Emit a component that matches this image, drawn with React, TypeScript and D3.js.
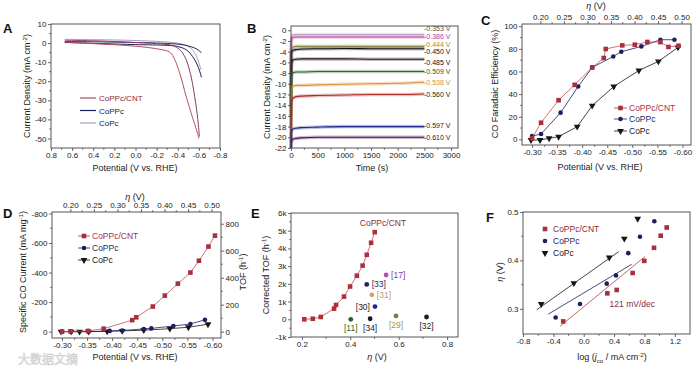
import { useEffect, useRef } from "react";
import * as d3 from "d3";

const FONT = "'Liberation Sans', Arial, sans-serif";
const RED = "#a8303e";
const NAVY = "#1c1f5e";
const BLK = "#151515";

// A: polarization curves (potential V, current density mA cm-2)
const lsvCntE1 = [0.67, 0.5, 0.3, 0.1, -0.1, -0.2, -0.28, -0.33, -0.37, -0.42, -0.48, -0.54, -0.58, -0.6];
const lsvCntJ1 = [0.5, 0, -0.6, -1.2, -2.2, -3.0, -3.8, -5.0, -8.5, -16, -28, -39, -46, -50];
const lsvCntE2 = [0.67, 0.4, 0.2, 0.0, -0.2, -0.35, -0.42, -0.47, -0.52, -0.56, -0.59, -0.605];
const lsvCntJ2 = [1.5, 1.2, 0.8, 0.3, -0.3, -1.3, -3.5, -7.5, -16, -28, -40, -49];
const lsvPpcE1 = [0.67, 0.3, 0.0, -0.3, -0.4, -0.48, -0.54, -0.59, -0.625];
const lsvPpcJ1 = [0.3, -0.3, -0.8, -1.2, -1.8, -3.5, -7, -12, -18];
const lsvPpcE2 = [0.67, 0.3, 0.0, -0.3, -0.42, -0.5, -0.56, -0.6, -0.625];
const lsvPpcJ2 = [0.8, 0.6, 0.3, -0.2, -0.7, -1.5, -2.6, -3.8, -5.2];
const lsvPcE = [0.67, 0.4, 0.1, -0.2, -0.35, -0.45, -0.52, -0.57, -0.62];
const lsvPcJ = [2.0, 1.8, 1.5, 0.9, 0.3, -0.6, -2.5, -6, -14];
const legendNames = ["CoPPc/CNT", "CoPPc", "CoPc"];

// B: chronoamperometry
const ctTimes = [0, 8, 20, 50, 100, 200, 500, 1000, 1500, 2000, 2500];
const ctPotentials = ["-0.353 V", "-0.386 V", "-0.444 V", "-0.450 V", "-0.485 V", "-0.509 V", "-0.538 V", "-0.560 V", "-0.597 V", "-0.610 V"];
const ctCurrents = [
  [-6, -1.6, -1.0, -0.85, -0.8, -0.8, -0.8, -0.8, -0.8, -0.8, -0.8],
  [-8, -2.2, -1.5, -1.3, -1.25, -1.25, -1.25, -1.25, -1.25, -1.25, -1.25],
  [-12, -4.0, -3.3, -3.1, -3.0, -3.0, -3.0, -3.0, -3.0, -3.0, -3.0],
  [-14, -4.6, -3.9, -3.7, -3.6, -3.5, -3.45, -3.4, -3.45, -3.45, -3.45],
  [-16, -6.6, -5.8, -5.5, -5.4, -5.35, -5.35, -5.35, -5.4, -5.4, -5.4],
  [-18, -9.0, -8.2, -7.9, -7.8, -7.8, -7.7, -7.7, -7.7, -7.7, -7.7],
  [-20, -11.2, -10.6, -10.4, -10.3, -10.3, -10.2, -10.1, -10.0, -9.9, -9.7],
  [-21, -13.6, -12.9, -12.6, -12.4, -12.3, -12.2, -12.1, -12.0, -12.0, -11.9],
  [-22, -19.2, -18.6, -18.4, -18.3, -18.2, -18.1, -18.0, -18.0, -18.0, -18.0],
  [-22, -21.0, -20.5, -20.3, -20.2, -20.1, -20.0, -20.0, -20.0, -20.0, -20.0],
];
const ctColors = ["#b8a8c4", "#c04a9a", "#8c8a4a", "#111111", "#2a1420", "#2a6a2a", "#d8953a", "#b02a2a", "#1a2a8a", "#4a1450"];
const ctText = ["#555", "#b040a0", "#a09040", "#111", "#111", "#2a5a2a", "#d09040", "#222", "#222", "#222"];
const ctLabelDy = [-6.1, -0.7, -2.2, 3.2, 3.4, 0, 0, 1, -1, 0];

// C: CO faradaic efficiency (%)
const feCntE = [-0.300, -0.318, -0.353, -0.385, -0.420, -0.443, -0.447, -0.480, -0.505, -0.530, -0.556, -0.572, -0.592];
const feCntV = [0.9, 14.7, 34.6, 48.2, 63.6, 71.9, 79.9, 83.1, 83.7, 86.1, 86.0, 81.7, 82.8];
const fePpcE = [-0.300, -0.318, -0.357, -0.392, -0.420, -0.462, -0.478, -0.518, -0.556, -0.584];
const fePpcV = [2.9, 4.7, 23.6, 46.7, 63.6, 73.3, 77.5, 82.2, 88.1, 88.1];
const fePcE = [-0.298, -0.316, -0.334, -0.353, -0.390, -0.420, -0.463, -0.513, -0.552, -0.591];
const fePcV = [-0.6, -0.6, 0.9, 2.3, 11.2, 29.8, 46.7, 60.9, 68.9, 81.3];

// D: specific CO current (mA mg-1)
const jcoCntE = [-0.300, -0.317, -0.352, -0.383, -0.440, -0.448, -0.481, -0.505, -0.531, -0.556, -0.573, -0.592, -0.605];
const jcoCntV = [0, -2, -5, -20, -78, -97, -170, -244, -325, -400, -480, -576, -650];
const jcoPpcE = [-0.300, -0.318, -0.353, -0.395, -0.420, -0.463, -0.478, -0.522, -0.556, -0.585];
const jcoPpcV = [0, 0, 0, -5, -8, -18, -22, -38, -52, -80];
const jcoPcE = [-0.298, -0.318, -0.335, -0.353, -0.390, -0.420, -0.463, -0.515, -0.552, -0.591];
const jcoPcV = [0, 0, 0, 0, -2, -5, -10, -20, -30, -50];

// E: corrected TOF vs overpotential
const tofEta = [0.21, 0.245, 0.278, 0.333, 0.341, 0.374, 0.399, 0.427, 0.451, 0.468, 0.486, 0.501];
const tofVal = [0, 30, 130, 600, 810, 1280, 1850, 2460, 3030, 3640, 4320, 4920];
const refTags = ["[33]", "[17]", "[31]", "[30]", "[11]", "[34]", "[29]", "[32]"];
const refEta = [0.468, 0.548, 0.489, 0.502, 0.402, 0.482, 0.589, 0.715];
const refTof = [1970, 2500, 1380, 720, 0, 30, 190, 130];
const refDot = ["#2a1f4e", "#b050c0", "#d8a060", "#1e2a8a", "#2e5a2e", "#1a1a1a", "#708050", "#1a1a1a"];
const refTxt = ["#2a2a5a", "#8040a0", "#c0a060", "#222", "#2e6a2e", "#222", "#a09a50", "#222"];
const refPlace = ["right", "right", "right", "left", "below", "below", "below", "below"];

// F: Tafel plot
const tafCntX = [-0.27, 0.311, 0.434, 0.645, 0.798, 0.926, 1.014, 1.093];
const tafCntY = [0.274, 0.332, 0.339, 0.374, 0.399, 0.426, 0.451, 0.468];
const tafPpcX = [-0.37, -0.049, 0.303, 0.425, 0.587, 0.741, 0.93];
const tafPpcY = [0.282, 0.310, 0.352, 0.369, 0.415, 0.449, 0.481];
const tafPcX = [-0.56, -0.13, 0.337, 0.535, 0.711];
const tafPcY = [0.310, 0.353, 0.406, 0.445, 0.486];
const fitCntX = [-0.313, 0.807];
const fitCntY = [0.264, 0.408];
const fitPpcX = [-0.467, 0.632];
const fitPpcY = [0.289, 0.392];
const fitPcX = [-0.62, 0.46];
const fitPcY = [0.298, 0.418];

type Box = { l: number; t: number; r: number; b: number };
type Sel = d3.Selection<any, any, any, any>;

function styleAxis(g: Sel) {
  g.select(".domain").remove();
  g.selectAll("line").attr("stroke", "#444").attr("stroke-width", 0.8);
  g.selectAll("text").attr("font-size", 8).attr("font-family", FONT).attr("fill", "#222");
}

function frame(svg: Sel, b: Box) {
  svg.append("rect").attr("x", b.l).attr("y", b.t).attr("width", b.r - b.l).attr("height", b.b - b.t)
    .attr("fill", "none").attr("stroke", "#444").attr("stroke-width", 0.9);
}

function minors(ticks: number[]) {
  return d3.pairs(ticks).map(([a, c]) => (a + c) / 2);
}

function axis(svg: Sel, b: Box, side: string, sc: any, ticks: number[], fmt: (d: number) => string, minor = true) {
  const gen = side === "bottom" ? d3.axisBottom(sc) : side === "top" ? d3.axisTop(sc) : side === "left" ? d3.axisLeft(sc) : d3.axisRight(sc);
  const pos = side === "bottom" ? `translate(0,${b.b})` : side === "top" ? `translate(0,${b.t})` : side === "left" ? `translate(${b.l},0)` : `translate(${b.r},0)`;
  const g = svg.append("g").attr("transform", pos)
    .call(gen.tickValues(ticks).tickFormat(fmt as any).tickSize(3).tickPadding(1.5));
  styleAxis(g);
  if (minor) {
    const m = minors(ticks);
    const horiz = side === "bottom" || side === "top";
    const dir = side === "bottom" || side === "right" ? 1.8 : -1.8;
    g.selectAll(".mn").data(m).join("line")
      .attr("x1", (d) => (horiz ? sc(d) : 0)).attr("x2", (d) => (horiz ? sc(d) : dir))
      .attr("y1", (d) => (horiz ? 0 : sc(d))).attr("y2", (d) => (horiz ? dir : sc(d)))
      .attr("stroke", "#444").attr("stroke-width", 0.8);
  }
}

function label(svg: Sel, x: number, y: number, s: string, size = 9, fill = "#222", anchor = "middle", rot = 0) {
  const t = svg.append("text").attr("x", x).attr("y", y).attr("font-size", size).attr("font-family", FONT)
    .attr("fill", fill).attr("text-anchor", anchor).text(s);
  if (rot) t.attr("transform", `rotate(${rot},${x},${y})`);
  return t;
}

function richLabel(svg: Sel, x: number, y: number, parts: [string, string][], rot = 0, size = 9) {
  const t = svg.append("text").attr("x", x).attr("y", y).attr("font-size", size).attr("font-family", FONT)
    .attr("fill", "#222").attr("text-anchor", "middle");
  if (rot) t.attr("transform", `rotate(${rot},${x},${y})`);
  let shift = 0;
  parts.forEach(([kind, s]) => {
    const sp = t.append("tspan").text(s);
    let target = 0;
    if (kind === "sup") { target = -3.5; sp.attr("font-size", size * 0.68); }
    if (kind === "sub") { target = 2.5; sp.attr("font-size", size * 0.68); }
    if (kind === "it") sp.attr("font-style", "italic");
    sp.attr("dy", target - shift);
    shift = target;
  });
  return t;
}

function marker(svg: Sel, x: number, y: number, shape: string, color: string) {
  if (shape === "square") {
    svg.append("rect").attr("x", x - 2.3).attr("y", y - 2.3).attr("width", 4.6).attr("height", 4.6).attr("fill", color);
  } else if (shape === "circle") {
    svg.append("circle").attr("cx", x).attr("cy", y).attr("r", 2.3).attr("fill", color);
  } else {
    svg.append("path").attr("d", d3.symbol(d3.symbolTriangle, 20)()).attr("transform", `translate(${x},${y}) rotate(180)`).attr("fill", color);
  }
}

function series(svg: Sel, xs: number[], ys: number[], sx: any, sy: any, color: string, shape: string, line = true, lineColor = color) {
  const pts = xs.map((v, i) => [sx(v), sy(ys[i])] as [number, number]);
  if (line) svg.append("path").attr("d", d3.line()(pts)).attr("fill", "none").attr("stroke", lineColor).attr("stroke-width", 0.8);
  pts.forEach(([x, y]) => marker(svg, x, y, shape, color));
}

function panelTag(svg: Sel, x: number, y: number, s: string) {
  svg.append("text").attr("x", x).attr("y", y).attr("font-size", 13).attr("font-weight", "bold").attr("font-family", FONT).attr("fill", "#111").text(s);
}

export default function App() {
  const ref = useRef<SVGSVGElement>(null);

  useEffect(() => {
    const svg = d3.select(ref.current) as Sel;
    svg.selectAll("*").remove();
    const f1 = (d: number) => d.toFixed(1);
    const f2 = (d: number) => d.toFixed(2);
    const fi = (d: number) => String(d);

    // watermark
    svg.append("text").attr("x", 18).attr("y", 364).attr("font-size", 12).attr("font-family", "'Noto Sans CJK SC'")
      .attr("fill", "#f0f0f0").attr("stroke", "#cccccc").attr("stroke-width", 0.5).text("大数据文摘");

    // ---------- A ----------
    const bA: Box = { l: 51, t: 24, r: 220, b: 148 };
    const xA = d3.scaleLinear([0.8, -0.8], [bA.l, bA.r]);
    const yA = d3.scaleLinear([-55, 10], [bA.b, bA.t]);
    const lineA = d3.line<[number, number]>().x((d) => xA(d[0])).y((d) => yA(d[1])).curve(d3.curveCatmullRom.alpha(0.5));
    const curvesA: [number[], number[], string][] = [
      [lsvPcE, lsvPcJ, "#ab9cc2"],
      [lsvPpcE1, lsvPpcJ1, NAVY],
      [lsvPpcE2, lsvPpcJ2, "#26264a"],
      [lsvCntE2, lsvCntJ2, "#8a3a66"],
      [lsvCntE1, lsvCntJ1, "#b0505e"],
    ];
    curvesA.forEach(([es, js, c]) => {
      svg.append("path").attr("d", lineA(es.map((e, i) => [e, js[i]]))).attr("fill", "none").attr("stroke", c).attr("stroke-width", 1);
    });
    frame(svg, bA);
    axis(svg, bA, "bottom", xA, d3.ticks(-0.8, 0.8, 8), f1);
    axis(svg, bA, "left", yA, d3.ticks(-50, 10, 6), fi);
    richLabel(svg, 30, 86, [["", "Current Density (mA cm"], ["sup", "-2"], ["", ")"]], -90);
    label(svg, 135, 171, "Potential (V vs. RHE)");
    const legA = ["#b0505e", NAVY, "#ab9cc2"];
    legendNames.forEach((n, i) => {
      const y = 98 + i * 12.5;
      svg.append("line").attr("x1", 80).attr("x2", 96).attr("y1", y).attr("y2", y).attr("stroke", legA[i]).attr("stroke-width", 1.2);
      label(svg, 99, y + 3, n, 8, i === 0 ? "#8a2a3a" : "#222", "start");
    });
    panelTag(svg, 3, 33, "A");

    // ---------- B ----------
    const bB: Box = { l: 291, t: 26, r: 458, b: 148 };
    const xB = d3.scaleLinear([0, 3130], [bB.l, bB.r]);
    const yB = d3.scaleLinear([-22, 0.8], [bB.b, bB.t]);
    const lineB = d3.line<[number, number]>().x((d) => xB(d[0])).y((d) => yB(d[1])).curve(d3.curveMonotoneX);
    ctCurrents.forEach((vals, i) => {
      const pts = ctTimes.map((t, j) => [t, vals[j]] as [number, number]);
      svg.append("path").attr("d", lineB(pts)).attr("fill", "none").attr("stroke", ctColors[i]).attr("stroke-width", 3.5).attr("opacity", 0.3);
      svg.append("path").attr("d", lineB(pts)).attr("fill", "none").attr("stroke", ctColors[i]).attr("stroke-width", 1.1);
      label(svg, 424, yB(vals[vals.length - 1]) + ctLabelDy[i] + 2.5, ctPotentials[i], 7, ctText[i], "start");
    });
    frame(svg, bB);
    axis(svg, bB, "bottom", xB, d3.range(0, 3001, 500), fi);
    axis(svg, bB, "left", yB, d3.range(-22, 1, 2), fi, false);
    richLabel(svg, 270, 87, [["", "Current Density (mA cm"], ["sup", "-2"], ["", ")"]], -90);
    label(svg, 372, 171, "Time (s)");
    panelTag(svg, 247, 33, "B");

    // ---------- C ----------
    const bC: Box = { l: 522, t: 24, r: 691, b: 145 };
    const xC = d3.scaleLinear([-0.28, -0.617], [bC.l, bC.r]);
    const etaC = d3.scaleLinear([0.161, 0.52], [bC.l, bC.r]);
    const yC = d3.scaleLinear([-5, 102], [bC.b, bC.t]);
    series(svg, fePcE, fePcV, xC, yC, BLK, "tri");
    series(svg, fePpcE, fePpcV, xC, yC, NAVY, "circle");
    series(svg, feCntE, feCntV, xC, yC, RED, "square", true, "#c05060");
    frame(svg, bC);
    axis(svg, bC, "bottom", xC, d3.ticks(-0.6, -0.3, 6), f2);
    axis(svg, bC, "top", etaC, d3.ticks(0.2, 0.5, 6), f2);
    axis(svg, bC, "left", yC, d3.ticks(0, 100, 5), fi);
    label(svg, 498, 84, "CO Faradaic Efficiency (%)", 9, "#222", "middle", -90);
    label(svg, 600, 170, "Potential (V vs. RHE)");
    richLabel(svg, 596, 9, [["it", "η"], ["", " (V)"]]);
    const legC = [RED, NAVY, BLK];
    const shapes = ["square", "circle", "tri"];
    legendNames.forEach((n, i) => {
      const y = [108, 119, 131][i];
      svg.append("line").attr("x1", 614).attr("x2", 627).attr("y1", y).attr("y2", y).attr("stroke", legC[i]).attr("stroke-width", 0.8);
      marker(svg, 620.5, y, shapes[i], legC[i]);
      label(svg, 629, y + 3, n, 8.5, legC[i], "start");
    });
    panelTag(svg, 481, 25, "C");

    // ---------- D ----------
    const bD: Box = { l: 52, t: 212, r: 221, b: 338 };
    const xD = d3.scaleLinear([-0.28, -0.617], [bD.l, bD.r]);
    const etaD = d3.scaleLinear([0.161, 0.52], [bD.l, bD.r]);
    const yD = d3.scaleLinear([43, -810], [bD.b, bD.t]);
    const yD2 = d3.scaleLinear([-47, 887], [bD.b, bD.t]);
    series(svg, jcoPcE, jcoPcV, xD, yD, BLK, "tri");
    series(svg, jcoPpcE, jcoPpcV, xD, yD, NAVY, "circle");
    series(svg, jcoCntE, jcoCntV, xD, yD, RED, "square", true, "#c05060");
    frame(svg, bD);
    axis(svg, bD, "bottom", xD, d3.ticks(-0.6, -0.3, 6), f2);
    axis(svg, bD, "top", etaD, d3.ticks(0.2, 0.5, 6), f2);
    axis(svg, bD, "left", yD, [0, -200, -400, -600, -800], fi);
    axis(svg, bD, "right", yD2, [0, 200, 400, 600, 800], fi);
    richLabel(svg, 26, 272, [["", "Specific CO Current (mA mg"], ["sup", "-1"], ["", ")"]], -90);
    richLabel(svg, 246, 272, [["", "TOF (h"], ["sup", "-1"], ["", ")"]], -90);
    label(svg, 135, 360, "Potential (V vs. RHE)");
    richLabel(svg, 135, 200, [["it", "η"], ["", " (V)"]]);
    legendNames.forEach((n, i) => {
      const y = [236, 248, 260][i];
      svg.append("line").attr("x1", 78).attr("x2", 90).attr("y1", y).attr("y2", y).attr("stroke", legC[i]).attr("stroke-width", 0.8);
      marker(svg, 84, y, shapes[i], legC[i]);
      label(svg, 92, y + 3, n, 8.5, legC[i], "start");
    });
    panelTag(svg, 3, 218, "D");

    // ---------- E ----------
    const bE: Box = { l: 291, t: 213, r: 458, b: 337 };
    const xE = d3.scaleLinear([0.155, 0.845], [bE.l, bE.r]);
    const yE = d3.scaleLinear([-1000, 6000], [bE.b, bE.t]);
    series(svg, tofEta, tofVal, xE, yE, "#b03038", "square", true, "#c05060");
    refTags.forEach((tag, i) => {
      const cx = xE(refEta[i]);
      const cy = yE(refTof[i]);
      svg.append("circle").attr("cx", cx).attr("cy", cy).attr("r", 2.4).attr("fill", refDot[i]);
      const p = refPlace[i];
      if (p === "right") label(svg, cx + 5, cy + 3, tag, 8.5, refTxt[i], "start");
      else if (p === "left") label(svg, cx - 5, cy + 3, tag, 8.5, refTxt[i], "end");
      else label(svg, cx, cy + 12, tag, 8.5, refTxt[i], "middle");
    });
    label(svg, xE(0.535), yE(5270), "CoPPc/CNT", 8.5, "#8a2a3a");
    frame(svg, bE);
    axis(svg, bE, "bottom", xE, [0.2, 0.4, 0.6, 0.8], f1);
    axis(svg, bE, "left", yE, d3.range(-1000, 6001, 1000), (d) => (d === 0 ? "0" : `${d / 1000}k`));
    richLabel(svg, 269, 275, [["", "Corrected TOF (h"], ["sup", "-1"], ["", ")"]], -90);
    richLabel(svg, 377, 360, [["it", "η"], ["", " (V)"]]);
    panelTag(svg, 251, 218, "E");

    // ---------- F ----------
    const bF: Box = { l: 523, t: 212, r: 690, b: 334 };
    const xF = d3.scaleLinear([-0.8, 1.4], [bF.l, bF.r]);
    const yF = d3.scaleLinear([0.248, 0.5], [bF.b, bF.t]);
    const fits: [number[], number[], string][] = [[fitPcX, fitPcY, BLK], [fitPpcX, fitPpcY, NAVY], [fitCntX, fitCntY, "#b04050"]];
    fits.forEach(([xs, ys, c]) => {
      svg.append("line").attr("x1", xF(xs[0])).attr("x2", xF(xs[1])).attr("y1", yF(ys[0])).attr("y2", yF(ys[1]))
        .attr("stroke", c).attr("stroke-width", 0.8);
    });
    series(svg, tafPcX, tafPcY, xF, yF, BLK, "tri", false);
    series(svg, tafPpcX, tafPpcY, xF, yF, NAVY, "circle", false);
    series(svg, tafCntX, tafCntY, xF, yF, RED, "square", false);
    label(svg, xF(0.64), yF(0.304), "121 mV/dec", 8.5, "#8a2a3a");
    frame(svg, bF);
    axis(svg, bF, "bottom", xF, [-0.8, -0.4, 0, 0.4, 0.8, 1.2], f1);
    axis(svg, bF, "left", yF, [0.3, 0.4, 0.5], f1);
    richLabel(svg, 503, 272, [["it", "η"], ["", " (V)"]], -90);
    richLabel(svg, 612, 360, [["", "log ("], ["it", "j"], ["sub", "co"], ["", " / mA cm"], ["sup", "-2"], ["", ")"]]);
    legendNames.forEach((n, i) => {
      const y = [229, 241, 253][i];
      marker(svg, 545, y, shapes[i], legC[i]);
      label(svg, 553, y + 3, n, 8.5, i === 0 ? "#8a2a3a" : legC[i], "start");
    });
    panelTag(svg, 486, 222, "F");
  }, []);

  return (
    <svg ref={ref} width={700} height={368} style={{ position: "absolute", left: 0, top: 0, background: "#fff" }} />
  );
}
